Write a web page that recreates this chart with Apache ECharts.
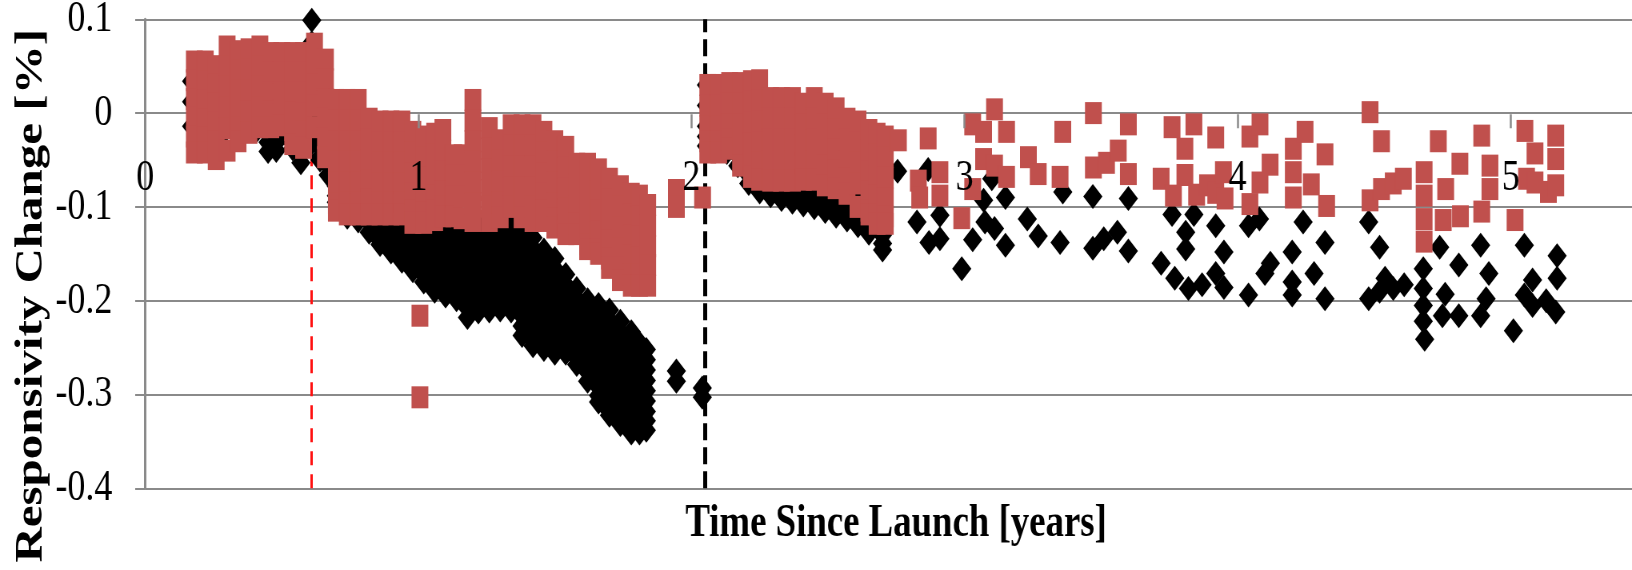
<!DOCTYPE html>
<html>
<head>
<meta charset="utf-8">
<script src="https://cdn.jsdelivr.net/npm/echarts@6.0.0/dist/echarts.min.js"></script>
<style>
html,body{margin:0;padding:0;overflow:hidden;background:#fff;width:1632px;height:570px;}
#main{width:2040px;height:570px;transform:scaleX(0.8);transform-origin:0 0;}
</style>
</head>
<body>
<div id="main"></div>
<script>
// ---------- DATA ----------
const xTickValues = [0, 1, 2, 3, 4, 5];
const yTickValues = [0.1, 0, -0.1, -0.2, -0.3, -0.4];
const eventLines = [0.61, 2.05]; // red dashed, black dashed (years)

// Black diamonds: dense part, one column of readings per time step
const blackBandX = [0.17,0.21,0.25,0.29,0.33,0.37,0.41,0.45,0.48,0.51,0.54,0.57,0.61,0.64,0.67,0.70,0.74,0.78,0.82,0.86,0.90,0.94,0.98,1.02,1.06,1.10,1.14,1.18,1.22,1.26,1.30,1.34,1.38,1.42,1.46,1.50,1.54,1.58,1.62,1.66,1.70,1.74,1.78,1.81,1.835,
  2.055,2.09,2.13,2.17,2.21,2.25,2.29,2.33,2.37,2.41,2.45,2.49,2.53,2.57,2.61,2.65,2.70];
const blackBandY = [
  [0.034,0.012,-0.014],
  [0.045,0.022,0.000,-0.020],
  [0.048,0.025,0.003,-0.020],
  [0.050,0.027,0.004,-0.020],
  [0.052,0.030,0.008,-0.018],
  [0.055,0.032,0.010,-0.006,-0.016],
  [0.052,0.030,0.006,-0.008,-0.018],
  [0.048,0.025,0.002,-0.010,-0.020,-0.031,-0.041],
  [0.045,0.022,0.000,-0.011,-0.022,-0.031,-0.040],
  [0.052,0.028,0.004,-0.010,-0.021],
  [0.050,0.026,0.002,-0.009,-0.020,-0.029,-0.038],
  [0.046,0.022,0.000,-0.011,-0.022,-0.033,-0.044,-0.053],
  [0.099,0.075,0.052,0.030,0.008,-0.004,-0.014,-0.024,-0.032],
  [0.045,0.022,0.000,-0.014,-0.025,-0.036,-0.047,-0.050],
  [0.020,-0.002,-0.013,-0.024,-0.035,-0.046,-0.056,-0.066],
  [-0.010,-0.032,-0.044,-0.055,-0.066,-0.078,-0.088,-0.095],
  [-0.035,-0.058,-0.069,-0.080,-0.091,-0.100,-0.111],
  [-0.050,-0.072,-0.084,-0.095,-0.105,-0.115],
  [-0.060,-0.082,-0.094,-0.105,-0.116,-0.127],
  [-0.070,-0.092,-0.104,-0.115,-0.126,-0.136,-0.140],
  [-0.080,-0.102,-0.114,-0.125,-0.136,-0.146,-0.148],
  [-0.090,-0.112,-0.124,-0.135,-0.146,-0.156,-0.158],
  [-0.105,-0.115,-0.125,-0.136,-0.147,-0.158,-0.168],
  [-0.108,-0.119,-0.130,-0.141,-0.152,-0.163,-0.172,-0.180],
  [-0.110,-0.121,-0.132,-0.143,-0.154,-0.165,-0.176,-0.186,-0.190],
  [-0.115,-0.126,-0.137,-0.148,-0.159,-0.170,-0.181,-0.191,-0.195],
  [-0.115,-0.126,-0.137,-0.148,-0.159,-0.170,-0.181,-0.191,-0.199],
  [-0.120,-0.131,-0.142,-0.153,-0.164,-0.175,-0.186,-0.197,-0.208,-0.218],
  [-0.120,-0.131,-0.142,-0.153,-0.164,-0.175,-0.186,-0.196,-0.205,-0.212],
  [-0.122,-0.133,-0.144,-0.155,-0.166,-0.177,-0.188,-0.198,-0.206,-0.211],
  [-0.124,-0.135,-0.146,-0.157,-0.168,-0.179,-0.190,-0.200,-0.210],
  [-0.120,-0.131,-0.142,-0.153,-0.164,-0.175,-0.186,-0.197,-0.205,-0.211],
  [-0.128,-0.139,-0.150,-0.161,-0.172,-0.183,-0.194,-0.205,-0.216,-0.227,-0.237],
  [-0.133,-0.144,-0.155,-0.166,-0.177,-0.188,-0.199,-0.210,-0.221,-0.232,-0.242,-0.248],
  [-0.146,-0.157,-0.168,-0.179,-0.190,-0.201,-0.212,-0.223,-0.234,-0.244,-0.252],
  [-0.155,-0.166,-0.177,-0.188,-0.199,-0.210,-0.221,-0.232,-0.243,-0.251,-0.256],
  [-0.172,-0.183,-0.194,-0.205,-0.216,-0.227,-0.238,-0.248,-0.256],
  [-0.187,-0.198,-0.209,-0.220,-0.231,-0.242,-0.252,-0.261,-0.268],
  [-0.199,-0.210,-0.221,-0.232,-0.243,-0.254,-0.265,-0.276,-0.286],
  [-0.204,-0.215,-0.226,-0.237,-0.248,-0.259,-0.270,-0.281,-0.292,-0.301,-0.308],
  [-0.210,-0.221,-0.232,-0.243,-0.254,-0.265,-0.276,-0.287,-0.298,-0.309,-0.318,-0.322],
  [-0.222,-0.233,-0.244,-0.255,-0.266,-0.277,-0.288,-0.299,-0.310,-0.321,-0.332],
  [-0.233,-0.244,-0.255,-0.266,-0.277,-0.288,-0.299,-0.310,-0.320,-0.331,-0.341],
  [-0.245,-0.256,-0.266,-0.277,-0.288,-0.299,-0.310,-0.320,-0.331,-0.341],
  [-0.252,-0.263,-0.274,-0.285,-0.296,-0.307,-0.318,-0.328,-0.338],
  [0.030,0.008,-0.014,-0.025,-0.035],
  [0.028,0.006,-0.016,-0.027,-0.038],
  [0.020,-0.002,-0.024,-0.034,-0.042],
  [0.010,-0.012,-0.034,-0.045,-0.056],
  [0.000,-0.022,-0.044,-0.055,-0.066,-0.075],
  [-0.008,-0.030,-0.052,-0.063,-0.074,-0.084],
  [-0.014,-0.036,-0.058,-0.068,-0.078,-0.088],
  [-0.018,-0.040,-0.062,-0.072,-0.082,-0.092],
  [-0.020,-0.042,-0.064,-0.074,-0.084,-0.095],
  [-0.024,-0.046,-0.068,-0.078,-0.088,-0.098],
  [-0.028,-0.050,-0.072,-0.082,-0.092,-0.101],
  [-0.032,-0.054,-0.076,-0.086,-0.096,-0.105],
  [-0.036,-0.058,-0.080,-0.090,-0.100,-0.110],
  [-0.040,-0.062,-0.084,-0.094,-0.104,-0.114],
  [-0.046,-0.068,-0.090,-0.100,-0.110,-0.120],
  [-0.052,-0.074,-0.096,-0.106,-0.116,-0.128],
  [-0.065,-0.087,-0.109,-0.120,-0.130,-0.139,-0.146]
];

// Black diamonds: isolated readings
const blackDotX = [1.945,1.945,2.04,2.04,2.755,2.867,2.826,2.87,2.91,2.91,2.99,3.03,3.07,3.075,3.11,3.15,3.15,3.10,
  3.23,3.27,3.35,3.36,3.47,3.47,3.51,3.56,3.60,3.60,3.72,3.76,3.81,3.81,3.77,3.84,3.82,3.87,3.92,3.92,3.95,3.95,
  4.04,4.08,4.04,4.10,4.12,4.20,4.20,4.20,4.24,4.28,4.32,4.32,4.48,4.52,4.48,4.52,4.57,4.61,4.54,
  4.68,4.68,4.68,4.68,4.685,4.74,4.75,4.76,4.81,4.81,4.89,4.92,4.91,4.89,5.01,5.05,5.08,5.05,5.08,
  5.17,5.17,5.165,5.13];
const blackDotY = [-0.275,-0.286,-0.293,-0.303,-0.062,-0.060,-0.116,-0.138,-0.109,-0.134,-0.166,-0.135,-0.093,-0.116,-0.123,-0.090,-0.141,-0.070,
  -0.113,-0.131,-0.138,-0.084,-0.089,-0.144,-0.134,-0.127,-0.091,-0.147,-0.160,-0.108,-0.127,-0.145,-0.176,-0.108,-0.187,-0.183,-0.120,-0.171,-0.148,-0.186,
  -0.120,-0.113,-0.194,-0.171,-0.160,-0.148,-0.180,-0.194,-0.116,-0.171,-0.138,-0.198,-0.116,-0.143,-0.198,-0.190,-0.187,-0.183,-0.176,
  -0.166,-0.187,-0.205,-0.222,-0.241,-0.143,-0.216,-0.193,-0.162,-0.216,-0.141,-0.171,-0.198,-0.216,-0.232,-0.141,-0.178,-0.194,-0.205,
  -0.152,-0.176,-0.212,-0.200];

// Red squares: dense part, one column of readings per time step
const redBandX = [0.18,0.22,0.26,0.30,0.34,0.38,0.42,0.46,0.50,0.54,0.58,0.62,0.66,0.70,0.74,0.78,0.82,0.86,0.90,0.94,0.98,1.02,1.06,1.09,1.13,1.16,1.20,1.26,1.30,1.34,1.38,1.42,1.46,1.50,1.54,1.58,1.62,1.66,1.70,1.74,1.78,1.81,1.84,
  2.06,2.10,2.14,2.18,2.22,2.25,2.29,2.33,2.37,2.41,2.45,2.49,2.53,2.57,2.61,2.65,2.68,2.71];
const redBandY = [
  [0.055,0.035,0.015,-0.005,-0.025,-0.042],
  [0.055,0.034,0.013,-0.007,-0.026,-0.042],
  [0.050,0.030,0.010,-0.010,-0.030,-0.049],
  [0.071,0.050,0.028,0.006,-0.016,-0.040],
  [0.066,0.045,0.024,0.003,-0.015,-0.030],
  [0.068,0.046,0.024,0.002,-0.021],
  [0.071,0.050,0.028,0.006,-0.015],
  [0.064,0.043,0.022,0.002,-0.015],
  [0.064,0.043,0.022,0.003,-0.013],
  [0.064,0.043,0.022,0.001,-0.018,-0.033],
  [0.064,0.043,0.022,0.000,-0.020,-0.037],
  [0.074,0.052,0.030,0.008,-0.015],
  [0.057,0.036,0.015,-0.006,-0.027,-0.047],
  [0.014,-0.008,-0.030,-0.052,-0.074,-0.096,-0.104],
  [0.014,-0.008,-0.030,-0.052,-0.074,-0.095,-0.108],
  [0.014,-0.008,-0.030,-0.052,-0.074,-0.095,-0.108],
  [-0.006,-0.028,-0.050,-0.072,-0.092,-0.108],
  [-0.009,-0.031,-0.053,-0.075,-0.095,-0.108],
  [-0.009,-0.031,-0.053,-0.075,-0.095,-0.108],
  [-0.009,-0.031,-0.053,-0.075,-0.095,-0.108],
  [-0.020,-0.042,-0.064,-0.086,-0.104,-0.117],
  [-0.025,-0.047,-0.069,-0.091,-0.106,-0.117],
  [-0.022,-0.044,-0.066,-0.088,-0.104,-0.114],
  [-0.018,-0.040,-0.062,-0.084,-0.100,-0.110],
  [-0.045,-0.067,-0.089,-0.110],
  [-0.045,-0.067,-0.089,-0.112],
  [0.014,-0.008,-0.030,-0.052,-0.074,-0.096,-0.115],
  [-0.016,-0.038,-0.060,-0.082,-0.100,-0.115],
  [-0.029,-0.051,-0.073,-0.095,-0.111],
  [-0.013,-0.035,-0.057,-0.079,-0.100],
  [-0.013,-0.035,-0.057,-0.079,-0.098,-0.111],
  [-0.013,-0.035,-0.057,-0.079,-0.100,-0.115],
  [-0.020,-0.042,-0.064,-0.086,-0.104,-0.115],
  [-0.030,-0.052,-0.074,-0.096,-0.112,-0.122],
  [-0.036,-0.058,-0.080,-0.102,-0.120,-0.129],
  [-0.054,-0.076,-0.098,-0.118,-0.129],
  [-0.054,-0.076,-0.098,-0.120,-0.140,-0.145],
  [-0.060,-0.082,-0.104,-0.126,-0.145,-0.150],
  [-0.070,-0.092,-0.114,-0.136,-0.155,-0.165],
  [-0.078,-0.100,-0.122,-0.144,-0.165,-0.178],
  [-0.086,-0.108,-0.130,-0.152,-0.172,-0.184],
  [-0.088,-0.110,-0.132,-0.154,-0.172,-0.184],
  [-0.098,-0.120,-0.142,-0.162,-0.184],
  [0.030,0.008,-0.014,-0.030,-0.042],
  [0.030,0.008,-0.014,-0.030,-0.042],
  [0.032,0.010,-0.012,-0.028,-0.038],
  [0.032,0.010,-0.012,-0.034,-0.056],
  [0.034,0.012,-0.010,-0.032,-0.054,-0.068],
  [0.035,0.013,-0.009,-0.031,-0.053,-0.071],
  [0.016,-0.006,-0.028,-0.050,-0.072],
  [0.016,-0.006,-0.028,-0.050,-0.072],
  [0.016,-0.006,-0.028,-0.050,-0.072],
  [0.010,-0.012,-0.034,-0.054,-0.071],
  [0.016,-0.006,-0.028,-0.050,-0.071],
  [0.010,-0.012,-0.034,-0.056,-0.077],
  [0.005,-0.017,-0.039,-0.061,-0.080],
  [-0.006,-0.028,-0.050,-0.070,-0.086],
  [-0.009,-0.031,-0.053,-0.075,-0.100],
  [-0.018,-0.040,-0.062,-0.084,-0.104,-0.108],
  [-0.022,-0.044,-0.066,-0.088,-0.108,-0.118],
  [-0.025,-0.047,-0.069,-0.091,-0.110,-0.118]
];

// Red squares: isolated readings
const redDotX = [1.006,1.006,1.945,1.945,2.041,2.758,2.867,2.831,2.836,2.91,2.91,3.03,3.03,2.99,3.11,3.07,3.154,3.07,3.11,3.154,
  3.234,3.27,3.36,3.35,3.472,3.472,3.52,3.563,3.60,3.60,3.72,3.76,3.765,3.807,3.807,3.84,3.85,3.89,3.92,3.92,3.948,3.954,
  4.045,4.082,4.045,4.082,4.119,4.204,4.204,4.204,4.247,4.27,4.32,4.326,4.485,4.527,4.485,4.527,4.570,4.607,
  4.683,4.683,4.683,4.683,4.735,4.753,4.762,4.814,4.816,4.894,4.894,4.924,4.924,
  5.016,5.052,5.058,5.089,5.089,5.138,5.165,5.165,5.165];
const redDotY = [-0.216,-0.303,-0.082,-0.100,-0.090,-0.029,-0.027,-0.072,-0.090,-0.063,-0.088,-0.012,-0.081,-0.112,0.004,-0.020,-0.020,-0.049,-0.056,-0.068,
  -0.047,-0.065,-0.020,-0.068,0.000,-0.058,-0.053,-0.040,-0.012,-0.065,-0.070,-0.015,-0.088,-0.038,-0.066,-0.012,-0.087,-0.077,-0.026,-0.085,-0.063,-0.091,
  -0.025,-0.012,-0.097,-0.074,-0.055,-0.038,-0.063,-0.090,-0.020,-0.076,-0.044,-0.099,0.001,-0.030,-0.093,-0.081,-0.075,-0.070,
  -0.063,-0.088,-0.113,-0.137,-0.030,-0.114,-0.081,-0.054,-0.110,-0.024,-0.105,-0.056,-0.081,
  -0.114,-0.019,-0.070,-0.043,-0.074,-0.084,-0.024,-0.049,-0.077];

// ---------- BUILD ----------
function columnsToPoints(xs, ys) {
  const out = [];
  xs.forEach((x, i) => ys[i].forEach(y => out.push([x, y])));
  return out;
}
function pairs(xs, ys) { return xs.map((x, i) => [x, ys[i]]); }

const blackData = columnsToPoints(blackBandX, blackBandY).concat(pairs(blackDotX, blackDotY));
const redData = columnsToPoints(redBandX, redBandY).concat(pairs(redDotX, redDotY));

const GRID_COLOR = '#8a8a8a';
const FONT = 'Liberation Serif, Times New Roman, serif';

const chart = echarts.init(document.getElementById('main'), null, {renderer: 'canvas'});
chart.setOption({
  animation: false,
  backgroundColor: '#ffffff',
  grid: {left: 181.5, right: -189.75, top: 19.3, bottom: 81.7, containLabel: false, outerBoundsMode: 'none'},
  xAxis: {
    type: 'value', min: 0, max: 6, interval: 1, z: 4,
    position: 'bottom', offset: -374,
    axisLine: {show: false, onZero: false},
    axisTick: {show: true, length: 14, lineStyle: {color: GRID_COLOR, width: 2.5}},
    axisLabel: {
      margin: 41, fontSize: 45, fontFamily: FONT, color: '#000',
      formatter: v => (xTickValues.indexOf(v) >= 0 ? String(v) : '')
    },
    splitLine: {show: false},
    name: 'Time Since Launch [years]', nameLocation: 'middle', nameGap: 387, nameMoveOverlap: false,
    nameTextStyle: {fontSize: 46, fontWeight: 'bold', fontFamily: FONT, color: '#000', padding: [0, 171, 0, 0]}
  },
  yAxis: {
    type: 'value', min: -0.4, max: 0.1, interval: 0.1,
    axisLine: {show: true, lineStyle: {color: GRID_COLOR, width: 3}},
    axisTick: {show: true, inside: false, length: 12.5, lineStyle: {color: GRID_COLOR, width: 2}},
    axisLabel: {margin: 41, fontSize: 45, fontFamily: FONT, color: '#000', padding: [11, 0, 0, 0],
      formatter: v => { const r = Math.round(v * 10) / 10; return yTickValues.indexOf(r) >= 0 ? String(r) : ''; }},
    splitLine: {show: true, lineStyle: {color: GRID_COLOR, width: 2}},
    name: 'Responsivity Change [%]', nameLocation: 'middle', nameGap: 118, nameMoveOverlap: false,
    nameTextStyle: {fontSize: 49, fontWeight: 'bold', fontFamily: FONT, color: '#000', padding: [0, 84, 0, 0]}
  },
  series: [
    {
      name: 'black', type: 'scatter', symbol: 'diamond', symbolSize: [24, 25], z: 2,
      itemStyle: {color: '#000000', opacity: 1}, data: blackData, silent: true,
      markLine: {
        z: 1, silent: true, symbol: 'none', label: {show: false}, animation: false,
        data: [
          {xAxis: eventLines[0], lineStyle: {color: '#ff1010', width: 3, type: [14, 9]}},
          {xAxis: eventLines[1], lineStyle: {color: '#000000', width: 5, type: [17, 7]}}
        ]
      }
    },
    {
      name: 'red', type: 'scatter', symbol: 'rect', symbolSize: [21, 22], z: 3,
      itemStyle: {color: '#C0504D', opacity: 1}, data: redData, silent: true
    }
  ]
});
</script>
</body>
</html>
